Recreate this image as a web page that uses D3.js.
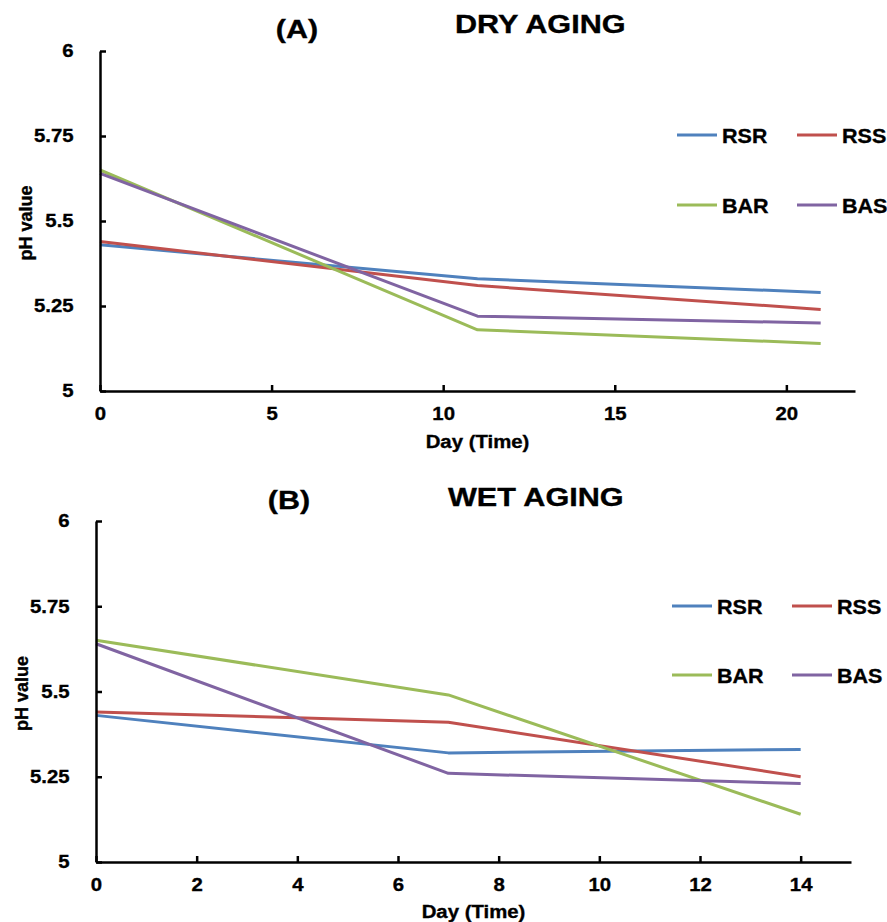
<!DOCTYPE html>
<html>
<head>
<meta charset="utf-8">
<script src="https://cdn.jsdelivr.net/npm/d3@7"></script>
<style>
  html, body { margin: 0; padding: 0; background: #fff; }
  text { font-family: "Liberation Sans", Arial, sans-serif; font-weight: bold; fill: #000; stroke: #000; stroke-width: 0.35px; }
</style>
</head>
<body>
<svg id="chart" width="887" height="922"></svg>
<script>
// ---- Data ----
const seriesNames = ["RSR", "RSS", "BAR", "BAS"];
const seriesColors = ["#4F81BD", "#C0504D", "#9BBB59", "#8064A2"];

const daysDry = [0, 11, 21];
const dryRSR = [5.43, 5.33, 5.29];
const dryRSS = [5.44, 5.31, 5.24];
const dryBAR = [5.65, 5.18, 5.14];
const dryBAS = [5.64, 5.22, 5.20];

const daysWet = [0, 7, 14];
const wetRSR = [5.43, 5.32, 5.33];
const wetRSS = [5.44, 5.41, 5.25];
const wetBAR = [5.65, 5.49, 5.14];
const wetBAS = [5.64, 5.26, 5.23];

const yTicks = [5, 5.25, 5.5, 5.75, 6];
const xTicksDry = [0, 5, 10, 15, 20];
const xTicksWet = [0, 2, 4, 6, 8, 10, 12, 14];

const svg = d3.select("#chart");

function styleTickText(sel) {
  sel.attr("font-size", 18.5).attr("transform", "scale(1.1,1)")
    .attr("font-family", "Liberation Sans, Arial, sans-serif").attr("font-weight", "bold")
    .attr("fill", "#000").attr("stroke", "#000").attr("stroke-width", 0.35);
}

function panel(cfg) {
  const g = svg.append("g");
  const x = d3.scaleLinear().domain(cfg.xDomain).range([cfg.left, cfg.right]);
  const y = d3.scaleLinear().domain([5, 6]).range([cfg.bottom, cfg.top]);

  // series lines
  const line = d3.line().x(d => x(d[0])).y(d => y(d[1]));
  cfg.series.forEach((vals, i) => {
    g.append("path")
      .datum(cfg.days.map((d, j) => [d, vals[j]]))
      .attr("fill", "none")
      .attr("stroke", seriesColors[i])
      .attr("stroke-width", 3)
      .attr("stroke-linejoin", "round")
      .attr("d", line);
  });

  // x axis
  const xa = g.append("g").attr("transform", `translate(0,${cfg.bottom})`)
    .call(d3.axisBottom(x).tickValues(cfg.xTicks).tickSizeInner(-6).tickSizeOuter(0).tickPadding(16).tickFormat(d3.format("d")));
  xa.select(".domain").attr("stroke", "#000").attr("stroke-width", 2.5);
  xa.selectAll(".tick line").attr("stroke", "#000").attr("stroke-width", 2.5);
  styleTickText(xa.selectAll(".tick text"));

  // y axis
  const ya = g.append("g").attr("transform", `translate(${cfg.left},0)`)
    .call(d3.axisLeft(y).tickValues(yTicks).tickSizeInner(-6).tickSizeOuter(0).tickPadding(24).tickFormat(d => String(d)));
  ya.select(".domain").attr("stroke", "#000").attr("stroke-width", 2.5);
  ya.selectAll(".tick line").attr("stroke", "#000").attr("stroke-width", 2.5);
  styleTickText(ya.selectAll(".tick text"));

  // axis titles
  g.append("text")
    .attr("transform", `translate(${(cfg.left + cfg.right) / 2},${cfg.xTitleY}) scale(1.1,1)`)
    .attr("text-anchor", "middle").attr("font-size", 18.5)
    .text("Day (Time)");
  g.append("text")
    .attr("transform", `translate(${cfg.yTitleX},${(cfg.top + cfg.bottom) / 2 + 2}) rotate(-90)`)
    .attr("text-anchor", "middle").attr("font-size", 18)
    .text("pH value");

  // panel titles
  g.append("text")
    .attr("transform", `translate(${cfg.labelX},${cfg.labelY}) scale(1.15,1)`)
    .attr("text-anchor", "middle").attr("font-size", 26.5)
    .text(cfg.label);
  g.append("text")
    .attr("transform", `translate(${cfg.titleX},${cfg.titleY}) scale(1.2,1)`)
    .attr("text-anchor", "start").attr("font-size", 25.5)
    .text(cfg.title);

  // legend
  seriesNames.forEach((name, i) => {
    const col = i % 2, row = Math.floor(i / 2);
    const lx = cfg.legX + col * 120;
    const ly = cfg.legY + row * cfg.legRow;
    g.append("line").attr("x1", lx).attr("x2", lx + 40).attr("y1", ly).attr("y2", ly)
      .attr("stroke", seriesColors[i]).attr("stroke-width", 3);
    g.append("text")
      .attr("transform", `translate(${lx + 45},${ly + 7.5}) scale(1.05,1)`)
      .attr("font-size", 20.5)
      .text(name);
  });
}

panel({
  xDomain: [0, 22], left: 100, right: 855, top: 51, bottom: 391,
  days: daysDry, series: [dryRSR, dryRSS, dryBAR, dryBAS], xTicks: xTicksDry,
  xTitleY: 448, yTitleX: 32,
  label: "(A)", labelX: 297, labelY: 38,
  title: "DRY AGING", titleX: 455, titleY: 33,
  legX: 677, legY: 135, legRow: 70
});

panel({
  xDomain: [0, 15], left: 96, right: 851, top: 521, bottom: 862,
  days: daysWet, series: [wetRSR, wetRSS, wetBAR, wetBAS], xTicks: xTicksWet,
  xTitleY: 918, yTitleX: 28,
  label: "(B)", labelX: 289, labelY: 509,
  title: "WET AGING", titleX: 448, titleY: 506,
  legX: 672, legY: 606, legRow: 69
});
</script>
</body>
</html>
